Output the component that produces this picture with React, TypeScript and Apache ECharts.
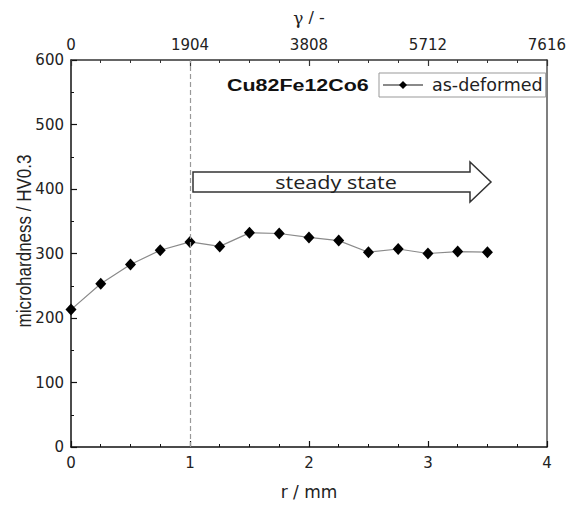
import React, { useEffect, useRef } from "react";
import * as echarts from "echarts";

// radial position r (mm) and measured microhardness (HV0.3)
const radius: number[] = [0, 0.25, 0.5, 0.75, 1, 1.25, 1.5, 1.75, 2, 2.25, 2.5, 2.75, 3, 3.25, 3.5];
const hardness: number[] = [213, 253, 283, 305, 318, 311, 332, 331, 325, 320, 302, 307, 300, 303, 302];

// shear strain scale on the upper axis
const gammaMin = 0;
const gammaMax = 7616;
const gammaStep = 1904;

const seriesName = "as-deformed";
const alloyLabel = "Cu82Fe12Co6";
const regionLabel = "steady state";
const yAxisTitle = "microhardness / HV0.3";

const FONT = "DejaVu Sans";

export default function App() {
  const ref = useRef<HTMLDivElement>(null);

  useEffect(() => {
    if (!ref.current) return;
    const chart = echarts.init(ref.current, undefined, { renderer: "svg" });

    const tickLabel = { fontFamily: FONT, fontSize: 15, color: "#222" };
    const nameStyle = { fontFamily: FONT, fontSize: 17, color: "#222" };

    chart.setOption({
      animation: false,
      backgroundColor: "#fff",
      grid: { left: 71, right: 20, top: 60, bottom: 58 },
      xAxis: [
        {
          type: "value",
          position: "bottom",
          min: 0,
          max: 4,
          interval: 1,
          name: "r / mm",
          nameLocation: "middle",
          nameGap: 36,
          nameTextStyle: nameStyle,
          axisLine: { show: true, onZero: false, lineStyle: { color: "#111", width: 1.5 } },
          axisTick: { show: true, inside: true, length: 6, lineStyle: { color: "#111", width: 1.2 } },
          minorTick: { show: true, splitNumber: 4, length: 3, lineStyle: { color: "#111", width: 1 } },
          splitLine: { show: false },
          axisLabel: { ...tickLabel, margin: 8 },
        },
        {
          type: "value",
          position: "top",
          min: gammaMin,
          max: gammaMax,
          interval: gammaStep,
          name: "{g|γ} / -",
          nameLocation: "middle",
          nameGap: 34,
          nameTextStyle: {
            ...nameStyle,
            fontSize: 16,
            rich: { g: { fontFamily: "DejaVu Serif", fontSize: 17, color: "#222" } },
          },
          axisLine: { show: true, onZero: false, lineStyle: { color: "#333", width: 1.5 } },
          axisTick: { show: true, inside: true, length: 6, lineStyle: { color: "#333", width: 1.2 } },
          minorTick: { show: true, splitNumber: 4, length: 3, lineStyle: { color: "#333", width: 1 } },
          splitLine: { show: false },
          axisLabel: { ...tickLabel, margin: 8, formatter: (v: number) => String(v) },
        },
      ],
      yAxis: [
        {
          type: "value",
          position: "left",
          min: 0,
          max: 600,
          interval: 100,
          axisLine: { show: true, onZero: false, lineStyle: { color: "#111", width: 1.5 } },
          axisTick: { show: true, inside: true, length: 6, lineStyle: { color: "#111", width: 1.2 } },
          minorTick: { show: true, splitNumber: 2, length: 3, lineStyle: { color: "#111", width: 1 } },
          splitLine: { show: false },
          axisLabel: { ...tickLabel, margin: 7 },
        },
        {
          type: "value",
          position: "right",
          min: 0,
          max: 600,
          interval: 100,
          axisLine: { show: true, onZero: false, lineStyle: { color: "#555", width: 1.5 } },
          axisTick: { show: false },
          axisLabel: { show: false },
          splitLine: { show: false },
        },
      ],
      legend: {
        left: 379,
        top: 73,
        padding: [3, 3, 3, 3],
        borderColor: "#999",
        borderWidth: 1,
        itemWidth: 40,
        itemHeight: 10,
        itemGap: 6,
        textStyle: { fontFamily: FONT, fontSize: 17.5, color: "#222", padding: [0, 0, 0, 4] },
        data: [seriesName],
      },
      series: [
        {
          name: seriesName,
          type: "line",
          xAxisIndex: 0,
          yAxisIndex: 0,
          data: radius.map((r, i) => [r, hardness[i]]),
          symbol: "diamond",
          symbolSize: [11, 12],
          itemStyle: { color: "#000" },
          lineStyle: { color: "#8a8a8a", width: 1.2 },
          z: 3,
          markLine: {
            silent: true,
            symbol: "none",
            label: { show: false },
            lineStyle: { color: "#999", type: [5, 3], width: 1.2 },
            data: [{ xAxis: 1 }],
          },
        },
      ],
      graphic: [
        {
          type: "text",
          x: 24,
          y: 241,
          rotation: Math.PI / 2,
          scaleY: 1.2,
          style: {
            text: yAxisTitle,
            font: '17px "Liberation Sans"',
            fill: "#222",
            align: "center",
            verticalAlign: "middle",
          },
        },
        {
          type: "text",
          x: 227,
          y: 85,
          scaleX: 1.3,
          style: {
            text: alloyLabel,
            font: 'bold 16.5px "Liberation Sans"',
            fill: "#111",
            align: "left",
            verticalAlign: "middle",
          },
        },
        {
          type: "polygon",
          shape: {
            points: [
              [193, 172],
              [470, 172],
              [470, 162],
              [491, 182],
              [470, 202],
              [470, 192],
              [193, 192],
            ],
          },
          style: { fill: "#fff", stroke: "#333", lineWidth: 1.5 },
          z: 10,
        },
        {
          type: "text",
          x: 336,
          y: 182,
          scaleX: 1.2,
          style: {
            text: regionLabel,
            font: '18px "Open Sans"',
            fill: "#222",
            align: "center",
            verticalAlign: "middle",
          },
          z: 11,
        },
      ],
    });

    return () => chart.dispose();
  }, []);

  return (
    <div
      ref={ref}
      style={{ position: "fixed", left: 0, top: 0, width: 569, height: 505, background: "#fff" }}
    />
  );
}
